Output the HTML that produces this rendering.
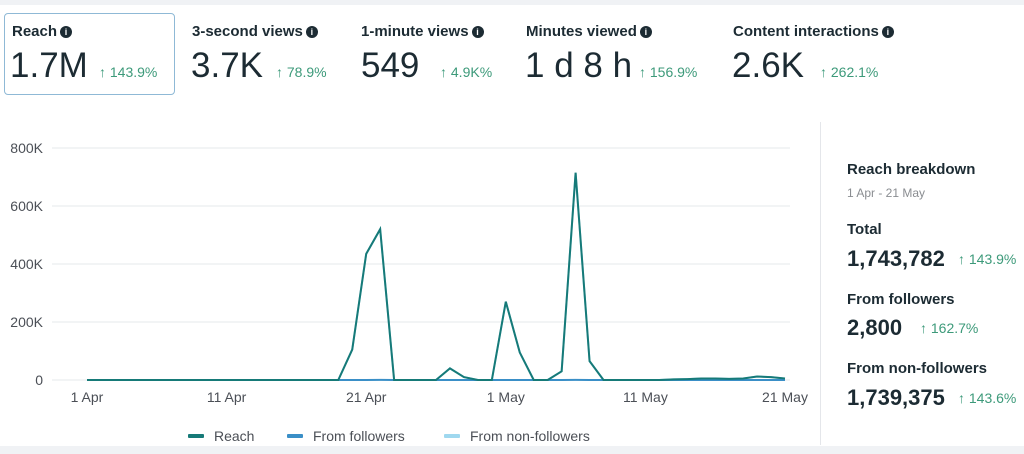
<!DOCTYPE html>
<html><head><meta charset="utf-8"><style>
*{margin:0;padding:0;box-sizing:border-box}
body{width:1024px;height:454px;background:#fff;font-family:"Liberation Sans",sans-serif;color:#1c2b33;position:relative;overflow:hidden}
.a{position:absolute;white-space:nowrap}
.lbl{font-size:15px;font-weight:bold;color:#1c2b33}
.info{display:inline-block;width:12px;height:12px;border-radius:50%;background:#1c2b33;color:#fff;font-size:9px;text-align:center;line-height:12px;vertical-align:1px;margin-left:3px;font-weight:bold}
.val{font-size:35px;color:#1c2b33}
.pct{font-size:14px;color:#3d9a7a}
.rb{font-size:15px;font-weight:bold}
.rv{font-size:22px;font-weight:bold}
</style></head><body>
<div class="a" style="left:0;top:0;width:1024px;height:5px;background:#f0f2f5"></div>
<div class="a" style="left:0;top:446px;width:1024px;height:8px;background:#f0f2f5"></div>
<div class="a" style="left:4px;top:13px;width:171px;height:82px;border:1.5px solid #8fb9d6;border-radius:4px"></div>

<div class="a lbl" style="left:12px;top:23px">Reach<span class="info">i</span></div>
<div class="a val" style="left:10px;top:46px">1.7M</div>
<div class="a pct" style="left:99px;top:64px">↑ 143.9%</div>

<div class="a lbl" style="left:192px;top:23px">3-second views<span class="info">i</span></div>
<div class="a val" style="left:191px;top:46px">3.7K</div>
<div class="a pct" style="left:276px;top:64px">↑ 78.9%</div>

<div class="a lbl" style="left:361px;top:23px">1-minute views<span class="info">i</span></div>
<div class="a val" style="left:361px;top:46px">549</div>
<div class="a pct" style="left:440px;top:64px">↑ 4.9K%</div>

<div class="a lbl" style="left:526px;top:23px">Minutes viewed<span class="info">i</span></div>
<div class="a val" style="left:525px;top:46px">1 d 8 h</div>
<div class="a pct" style="left:639px;top:64px">↑ 156.9%</div>

<div class="a lbl" style="left:733px;top:23px">Content interactions<span class="info">i</span></div>
<div class="a val" style="left:732px;top:46px">2.6K</div>
<div class="a pct" style="left:820px;top:64px">↑ 262.1%</div>

<div class="a" style="left:820px;top:122px;width:1px;height:323px;background:#e4e6ea"></div>
<div class="a" style="left:847px;top:161px;font-size:15px;font-weight:bold">Reach breakdown</div>
<div class="a" style="left:847px;top:186px;font-size:12px;color:#8a8d91">1 Apr - 21 May</div>
<div class="a rb" style="left:847px;top:221px">Total</div>
<div class="a rv" style="left:847px;top:246px">1,743,782</div>
<div class="a pct" style="left:958px;top:251px">↑ 143.9%</div>
<div class="a rb" style="left:847px;top:291px">From followers</div>
<div class="a rv" style="left:847px;top:315px">2,800</div>
<div class="a pct" style="left:920px;top:320px">↑ 162.7%</div>
<div class="a rb" style="left:847px;top:360px">From non-followers</div>
<div class="a rv" style="left:847px;top:385px">1,739,375</div>
<div class="a pct" style="left:958px;top:390px">↑ 143.6%</div>

<svg class="a" id="chart" style="left:0;top:0" width="820" height="454"></svg>
<script>
const days = ["1 Apr","2 Apr","3 Apr","4 Apr","5 Apr","6 Apr","7 Apr","8 Apr","9 Apr","10 Apr","11 Apr","12 Apr","13 Apr","14 Apr","15 Apr","16 Apr","17 Apr","18 Apr","19 Apr","20 Apr","21 Apr","22 Apr","23 Apr","24 Apr","25 Apr","26 Apr","27 Apr","28 Apr","29 Apr","30 Apr","1 May","2 May","3 May","4 May","5 May","6 May","7 May","8 May","9 May","10 May","11 May","12 May","13 May","14 May","15 May","16 May","17 May","18 May","19 May","20 May","21 May"];
const reach = [0,0,0,0,0,0,0,0,0,0,0,0,0,0,0,0,0,0,0,105000,435000,520000,0,0,0,0,40000,10000,0,0,270000,95000,0,0,30000,715000,65000,0,0,0,0,0,2000,3000,5000,5000,4000,5000,12000,10000,5000];
const followers = [0,0,0,0,0,0,0,0,0,0,0,0,0,0,0,0,0,0,0,100,200,300,0,0,0,0,50,20,0,0,200,100,0,0,50,400,100,0,0,0,0,0,10,20,30,30,20,30,60,50,30];
const nonFollowers = reach.map((v,i)=>v-followers[i]);
const yTicks = [0,200000,400000,600000,800000];
const yTickLabels = ["0","200K","400K","600K","800K"];
const xTickIdx = [0,10,20,30,40,50];
const xTickLabels = ["1 Apr","11 Apr","21 Apr","1 May","11 May","21 May"];

const svg=document.getElementById('chart');
const NS='http://www.w3.org/2000/svg';
const x0=87,x1=785,y0=380,y1=148,ymax=800000;
const X=i=>x0+(x1-x0)*i/(days.length-1);
const Y=v=>y0-(y0-y1)*v/ymax;
function mk(t,a){const e=document.createElementNS(NS,t);for(const k in a)e.setAttribute(k,a[k]);svg.appendChild(e);return e;}
yTicks.forEach((t,i)=>{
  const g=mk('line',{x1:52,x2:790,y1:Y(t),y2:Y(t),stroke:'#e6e8eb','stroke-width':1});
  
  
  const l=mk('text',{x:43,y:Y(t)+5,'text-anchor':'end','font-size':14,fill:'#4b4f56','font-family':'Liberation Sans, sans-serif'});
  l.textContent=yTickLabels[i];
  
  
});
xTickIdx.forEach((d,i)=>{
  const l=mk('text',{x:X(d),y:402,'text-anchor':'middle','font-size':14,fill:'#4b4f56','font-family':'Liberation Sans, sans-serif'});
  l.textContent=xTickLabels[i];
  
  
});
function line(data,color,name,w){
  const p=mk('polyline',{points:data.map((v,i)=>X(i)+','+Y(v)).join(' '),fill:'none',stroke:color,'stroke-width':w,'stroke-linejoin':'miter'});
  
  
}
line(nonFollowers,'#9fd8ef','non-followers-line',2);
line(followers,'#3a8fc7','followers-line',2);
line(reach,'#167a78','reach-line',2);
const leg=[["Reach","#167a78",188],["From followers","#3a8fc7",287],["From non-followers","#9fd8ef",444]];
leg.forEach(([t,c,x])=>{
  const r=mk('rect',{x:x,y:434,width:16,height:4,rx:1,fill:c});
  
  
  const l=mk('text',{x:x+26,y:441,'font-size':14,fill:'#4b4f56','font-family':'Liberation Sans, sans-serif'});
  l.textContent=t;
  
  
});
</script>
</body></html>
